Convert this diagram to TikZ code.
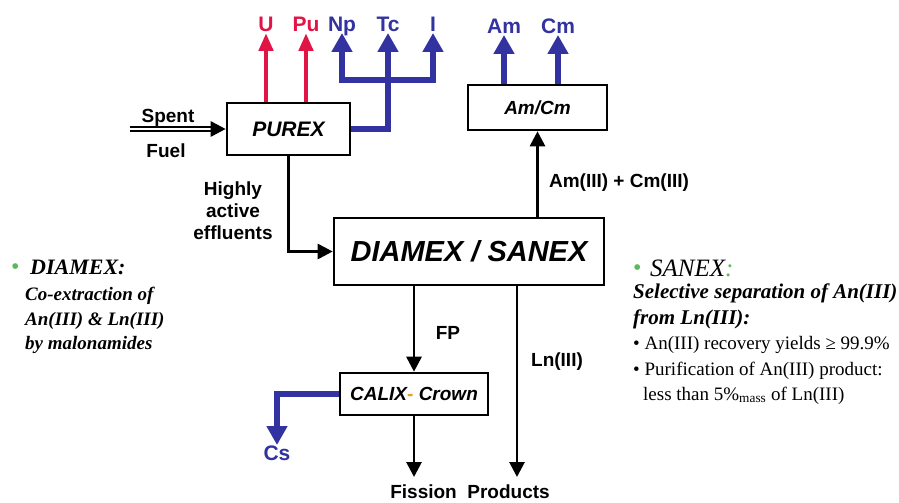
\documentclass[tikz,border=0pt]{standalone}
\usepackage{fontspec}
\setmainfont{Liberation Sans}
\newfontfamily\timesfont{Liberation Serif}
\usetikzlibrary{arrows.meta,positioning}

\definecolor{purexred}{RGB}{225,20,70}
\definecolor{minorblue}{RGB}{50,50,160}
\definecolor{bulletgreen}{RGB}{90,185,90}
\definecolor{dashorange}{RGB}{225,160,40}

\begin{document}
\begin{tikzpicture}[x=1pt, y=-1pt, >={Triangle[length=15pt,width=15pt]},
    every node/.style={font=\fontsize{19}{22}\selectfont\bfseries, inner sep=1pt},
    process/.style={draw, line width=2.6pt, inner sep=0pt,
      font=\fontsize{19}{22}\selectfont\bfseries\itshape},
    flow/.style={line width=2.8pt},
    redflow/.style={draw=purexred, line width=4.5pt, -{Triangle[length=18pt,width=14pt]}},
    blueflow/.style={draw=minorblue, line width=6pt},
    bluetip/.style={-{Triangle[length=19pt,width=20pt]}},
    element/.style={font=\fontsize{21}{24}\selectfont\bfseries, anchor=south, text depth=0pt},
    greendot/.style={anchor=base west, inner sep=0pt, bulletgreen, font=\timesfont\fontsize{24}{26}\selectfont},
    sidetext/.style={anchor=base west, inner sep=0pt, font=\timesfont\fontsize{19}{22}\selectfont\bfseries\itshape},
    plaintext/.style={anchor=base west, inner sep=0pt, font=\timesfont\fontsize{19}{22}\selectfont}]
    \useasboundingbox (0,0) rectangle (899,503);

    % Process boxes
    \node[process, minimum width=123pt, minimum height=52pt,
      font=\fontsize{21}{24}\selectfont\bfseries\itshape] (purex) at (288.5,129) {PUREX};
    \node[process, minimum width=139pt, minimum height=45pt] (amcm) at (537.5,107.5) {Am/Cm};
    \node[process, minimum width=270pt, minimum height=67pt,
      font=\fontsize{29}{32}\selectfont\bfseries\itshape] (diamex) at (469,251.5) {DIAMEX / SANEX};
    \node[process, minimum width=148pt, minimum height=42pt] (calix) at (414,394) {CALIX{\color{dashorange}-} Crown};

    % Products on top
    \node[element, purexred] (uLab) at (266,33) {U};
    \node[element, purexred] (puLab) at (306,33) {Pu};
    \node[element, minorblue] (npLab) at (342,33) {Np};
    \node[element, minorblue] (tcLab) at (388,33) {Tc};
    \node[element, minorblue] (iLab) at (433,33) {I};
    \node[element, minorblue] (amLab) at (504,35) {Am};
    \node[element, minorblue] (cmLab) at (558,35) {Cm};
    \node[element, minorblue, anchor=north] (csLab) at (277,445) {Cs};

    % Spent fuel feed
    \coordinate (fuelStart) at (130,129);
    \coordinate (fuelEnd) at (212,129);
    \draw[double, line width=1.7pt, double distance=2.2pt] (fuelStart) -- (fuelEnd);
    \draw[flow,->] (fuelEnd) -- (purex.west);
    \node[anchor=base] (spent) at (168,122) {Spent};
    \node[anchor=base] (fuel) at (166,157) {Fuel};

    % PUREX outputs
    \draw[redflow] (purex.north -| uLab) -- (uLab.south);
    \draw[redflow] (purex.north -| puLab) -- (puLab.south);
    \coordinate (split) at (388,80);
    \draw[blueflow, line join=miter] (purex.east) -| (split);
    \draw[blueflow, bluetip] (split) -| (npLab.south);
    \draw[blueflow, bluetip] (split) -- (tcLab.south);
    \draw[blueflow, bluetip] (split) -| (iLab.south);

    % Highly active effluents
    \draw[flow,->] (purex.south) |- (diamex.west);
    \node[align=center] (hae) at (233,211) {Highly\\active\\effluents};

    % Am / Cm line
    \draw[flow,->] (diamex.north -| amcm.south) -- (amcm.south);
    \node (amcmLab) at (619,183) {Am(III) + Cm(III)};
    \draw[blueflow, bluetip] (amcm.north -| amLab) -- (amLab.south);
    \draw[blueflow, bluetip] (amcm.north -| cmLab) -- (cmLab.south);

    % Below DIAMEX / SANEX
    \coordinate (fissEnd) at (414,477);
    \coordinate (lnEnd) at (517,477);
    \draw[flow,->] (diamex.south -| calix.north) -- (calix.north);
    \node (fpLab) at (448,333) {FP};
    \draw[flow,->] (diamex.south -| lnEnd) -- (lnEnd);
    \node (lnLab) at (557,362) {Ln(III)};
    \draw[flow,->] (calix.south) -- (fissEnd);
    \draw[blueflow, bluetip, line join=miter] (calix.west) -| (csLab.north);
    \node (fission) at (470,492) {Fission\ \ Products};

    % DIAMEX notes
    \node[greendot] (dBullet) at (11,274) {•};
    \node[anchor=base west, inner sep=0pt, font=\timesfont\fontsize{22}{26}\selectfont\bfseries\itshape] (dTitle) at (30,274) {DIAMEX:};
    \node[sidetext] (d1) at (25,300) {Co-extraction of};
    \node[sidetext] (d2) at (25,325) {An(III) \& Ln(III)};
    \node[sidetext] (d3) at (25,349) {by malonamides};

    % SANEX notes
    \node[greendot] (sBullet) at (633,275) {•};
    \node[anchor=base west, inner sep=0pt, font=\timesfont\fontsize{25}{28}\selectfont\itshape] (sTitle) at (650,276) {SANEX{\color{bulletgreen}:}};
    \node[sidetext, font=\timesfont\fontsize{21}{24}\selectfont\bfseries\itshape] (s1) at (633,298) {Selective separation of An(III)};
    \node[sidetext, font=\timesfont\fontsize{21}{24}\selectfont\bfseries\itshape] (s2) at (633,324) {from Ln(III):};
    \node[plaintext] (s3) at (633,349) {• An(III) recovery yields ≥ 99.9\%};
    \node[plaintext] (s4) at (633,375) {• Purification of An(III) product:};
    \node[plaintext] (s5) at (643,400) {less than 5\%\textsubscript{mass} of Ln(III)};
  \end{tikzpicture}
\end{document}
